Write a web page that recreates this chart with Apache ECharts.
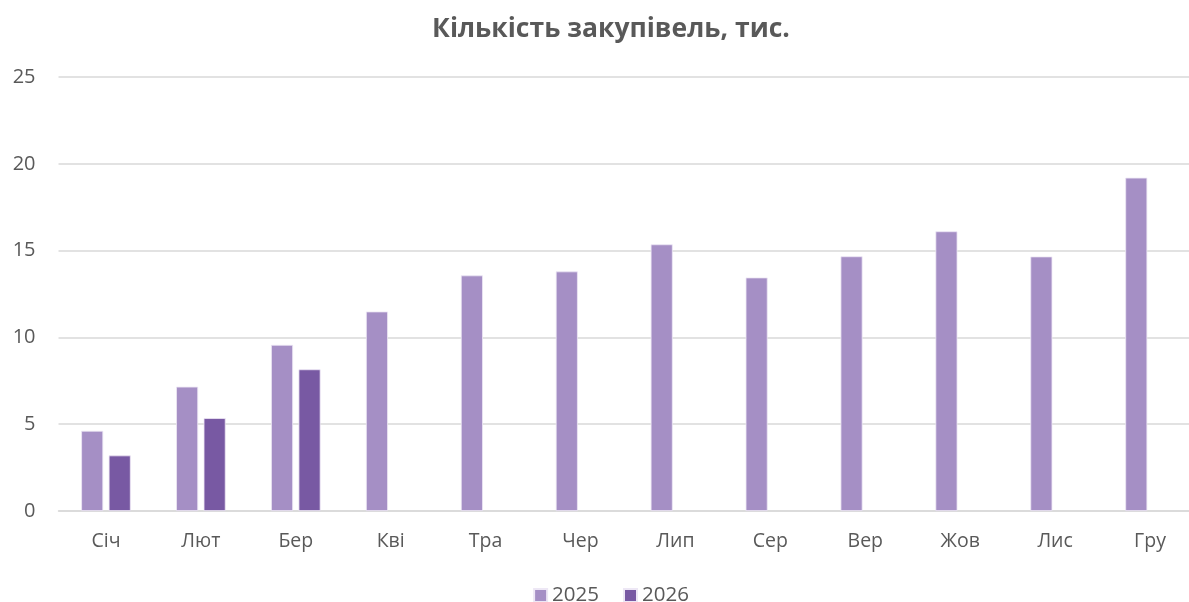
<!DOCTYPE html>
<html>
<head>
<meta charset="utf-8">
<script src="https://cdn.jsdelivr.net/npm/echarts@6/dist/echarts.min.js"></script>
<style>
  html, body { margin: 0; padding: 0; background: #fff; overflow: hidden; }
  #chart { width: 1222px; height: 602px; }
</style>
</head>
<body>
<div id="chart"></div>
<script>
// Дані
const months = ['Січ', 'Лют', 'Бер', 'Кві', 'Тра', 'Чер', 'Лип', 'Сер', 'Вер', 'Жов', 'Лис', 'Гру'];
const values2025 = [4.62, 7.16, 9.57, 11.49, 13.57, 13.8, 15.36, 13.45, 14.67, 16.11, 14.66, 19.2];
const values2026 = [3.2, 5.35, 8.16, null, null, null, null, null, null, null, null, null];
const yTicks = [0, 5, 10, 15, 20, 25];

const textColor = '#595959';
const fontFamily = '"Open Sans", "Noto Sans", sans-serif';

// полотно трохи ширше за вікно, як в Excel: область графіка виходить за край
const chart = echarts.init(document.getElementById('chart'));
chart.setOption({
  animation: false,
  textStyle: { fontFamily: fontFamily },
  title: {
    text: 'Кількість закупівель, тис.',
    left: 'center',
    top: 11,
    textStyle: { color: textColor, fontSize: 26.5, fontWeight: 'bold', fontFamily: fontFamily }
  },
  legend: {
    bottom: -9,
    left: 'center',
    itemWidth: 13,
    itemHeight: 13,
    itemGap: 24,
    icon: 'rect',
    textStyle: { color: textColor, fontSize: 20.5, fontFamily: fontFamily },
    data: ['2025', '2026']
  },
  grid: { left: 58.5, right: 24.5, top: 77, bottom: 91 },
  xAxis: {
    type: 'category',
    data: months,
    axisLine: { lineStyle: { color: '#d9d9d9', width: 1.5 } },
    axisTick: { show: false },
    axisLabel: { color: textColor, fontSize: 19.5, margin: 20 }
  },
  yAxis: {
    type: 'value',
    min: yTicks[0],
    max: yTicks[yTicks.length - 1],
    interval: 5,
    axisLine: { show: false },
    axisTick: { show: false },
    axisLabel: { color: textColor, fontSize: 20, margin: 23 },
    splitLine: { lineStyle: { color: '#d9d9d9', width: 1.5 } }
  },
  series: [
    {
      name: '2025',
      type: 'bar',
      data: values2025,
      barWidth: 22,
      barGap: '25%',
      itemStyle: { color: '#a58fc5', borderColor: '#ede7f5', borderWidth: 0.8 }
    },
    {
      name: '2026',
      type: 'bar',
      data: values2026,
      barWidth: 22,
      itemStyle: { color: '#7859a3', borderColor: '#ede7f5', borderWidth: 0.8 }
    }
  ]
});
</script>
</body>
</html>
